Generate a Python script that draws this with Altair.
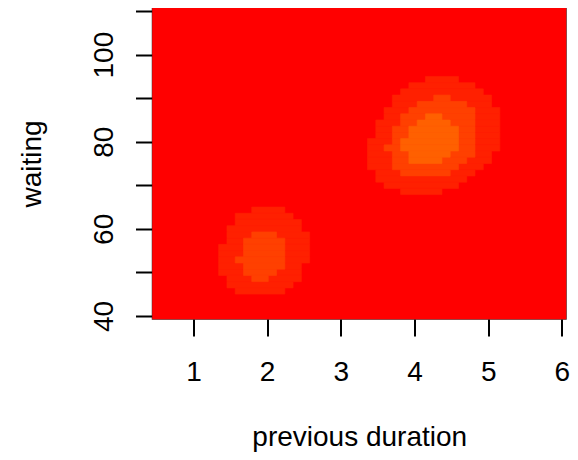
import altair as alt
import pandas as pd

x_lims = [0.5, 6.0]
y_lims = [40.0, 110.0]
n_grid = 50

# heat.colors levels used by the image
level_colors = ["#FF0000", "#FF2000", "#FF4000", "#FF6000"]

# density band runs: row counted from the top of the grid, first and last column
band1_row = [11, 12, 13, 14, 15, 16, 17, 18, 19, 20, 21, 22, 23, 24, 25, 26, 27, 28, 29,
             32, 33, 34, 35, 36, 37, 38, 39, 40, 41, 42, 43, 44, 45]
band1_first = [33, 31, 30, 29, 29, 28, 28, 27, 27, 27, 26, 26, 26, 26, 26, 27, 27, 28, 30,
               12, 10, 10, 9, 9, 9, 8, 8, 8, 8, 8, 9, 9, 10]
band1_last = [36, 38, 39, 40, 40, 41, 41, 41, 41, 41, 41, 41, 40, 40, 39, 38, 37, 36, 34,
              15, 16, 17, 17, 18, 18, 18, 18, 18, 17, 17, 17, 16, 15]

band2_row = [14, 15, 16, 17, 18, 19, 20, 21, 22, 23, 24, 25, 26,
             36, 37, 38, 39, 40, 41, 42, 43]
band2_first = [34, 32, 31, 30, 30, 29, 29, 29, 28, 29, 29, 29, 30,
               12, 11, 11, 11, 10, 11, 11, 12]
band2_last = [35, 37, 38, 38, 38, 38, 38, 38, 38, 38, 37, 36, 35,
              14, 15, 15, 15, 15, 15, 14, 13]

band3_row = [17, 18, 19, 20, 21, 22, 23, 24]
band3_first = [33, 32, 31, 31, 30, 30, 31, 31]
band3_last = [34, 35, 36, 36, 36, 36, 35, 34]

x_ticks = [1, 2, 3, 4, 5, 6]
y_ticks = [40, 50, 60, 70, 80, 90, 100, 110]

dx = (x_lims[1] - x_lims[0]) / (n_grid - 1)
dy = (y_lims[1] - y_lims[0]) / (n_grid - 1)
x_dom = [x_lims[0] - dx / 2, x_lims[1] + dx / 2]
y_dom = [y_lims[0] - dy / 2, y_lims[1] + dy / 2]

records = [dict(level=0, x0=x_dom[0], x1=x_dom[1], y0=y_dom[0], y1=y_dom[1])]
for lev, rows, firsts, lasts in [(1, band1_row, band1_first, band1_last),
                                 (2, band2_row, band2_first, band2_last),
                                 (3, band3_row, band3_first, band3_last)]:
    for r, a, b in zip(rows, firsts, lasts):
        j = n_grid - 1 - r
        records.append(dict(level=lev,
                            x0=x_lims[0] + (a - 0.5) * dx,
                            x1=x_lims[0] + (b + 0.5) * dx,
                            y0=y_lims[0] + (j - 0.5) * dy,
                            y1=y_lims[0] + (j + 0.5) * dy))
df = pd.DataFrame(records)
df["order"] = range(len(df))

FONT = "Liberation Sans"
FS = 28
W, H = 413.5, 311

col_scale = alt.Scale(domain=[0, 1, 2, 3], range=level_colors)

chart = alt.Chart(df).mark_rect(strokeWidth=0.6).encode(
    x=alt.X("x0:Q", scale=alt.Scale(domain=x_dom, nice=False, zero=False),
            axis=alt.Axis(values=x_ticks, tickSize=17, tickWidth=2, tickColor="black",
                          domain=False, grid=False, labelFont=FONT, labelFontSize=FS,
                          labelColor="black", labelPadding=22, labelFlush=False,
                          labelOverlap=False, title="previous duration",
                          titleFont=FONT, titleFontSize=FS, titleFontWeight="normal",
                          titleColor="black", titleBaseline="alphabetic",
                          titleY=126.5, titleX=W / 2, titleAlign="center")),
    x2="x1:Q",
    y=alt.Y("y0:Q", scale=alt.Scale(domain=y_dom, nice=False, zero=False),
            axis=alt.Axis(values=y_ticks, tickSize=17, tickWidth=2, tickColor="black",
                          domain=False, grid=False, labelFont=FONT, labelFontSize=FS,
                          labelColor="black", labelPadding=23.5, labelFlush=False,
                          labelOverlap=False, labelAngle=270, labelAlign="center",
                          labelBaseline="alphabetic",
                          labelExpr="datum.value % 20 == 0 ? datum.label : ''",
                          title="waiting", titleFont=FONT, titleFontSize=FS,
                          titleFontWeight="normal", titleColor="black",
                          titleAngle=270, titleBaseline="alphabetic",
                          titleX=-112.5, titleY=H / 2, titleAlign="center")),
    y2="y1:Q",
    color=alt.Color("level:O", scale=col_scale, legend=None),
    stroke=alt.Stroke("level:O", scale=col_scale, legend=None),
    order="order:Q",
).properties(
    width=W, height=H,
    autosize=alt.AutoSizeParams(type="none"),
    padding={"left": 144.5, "top": 0, "right": 4, "bottom": 133},
).configure_view(stroke="#333333", strokeWidth=1.5)

chart.save("out.html", embed_options={"renderer": "svg", "actions": False})
